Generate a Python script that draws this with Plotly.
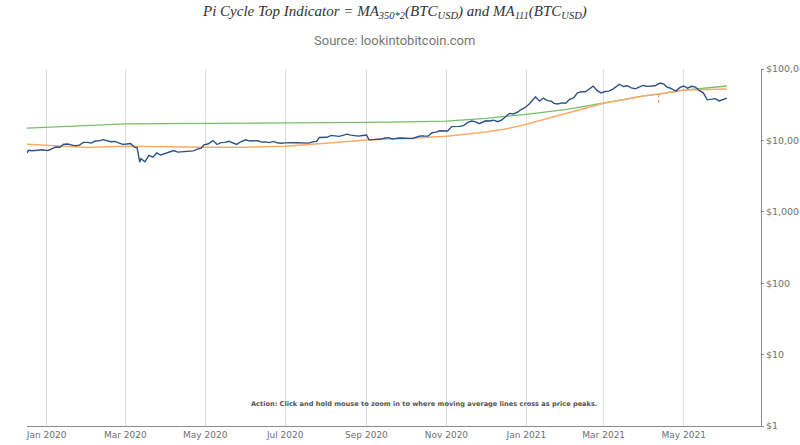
import plotly.graph_objects as go

price_dates = ["2019-12-17","2019-12-18","2019-12-21","2019-12-25","2019-12-29","2020-01-01","2020-01-03","2020-01-06","2020-01-08","2020-01-11","2020-01-14","2020-01-17","2020-01-20","2020-01-23","2020-01-26","2020-01-29","2020-02-01","2020-02-04","2020-02-07","2020-02-10","2020-02-13","2020-02-16","2020-02-19","2020-02-22","2020-02-25","2020-02-28","2020-03-02","2020-03-05","2020-03-08","2020-03-10","2020-03-12","2020-03-13","2020-03-16","2020-03-19","2020-03-22","2020-03-25","2020-03-28","2020-04-01","2020-04-04","2020-04-07","2020-04-10","2020-04-13","2020-04-16","2020-04-19","2020-04-22","2020-04-25","2020-04-28","2020-04-30","2020-05-03","2020-05-07","2020-05-10","2020-05-13","2020-05-16","2020-05-19","2020-05-22","2020-05-25","2020-05-28","2020-06-01","2020-06-04","2020-06-07","2020-06-10","2020-06-13","2020-06-16","2020-06-19","2020-06-22","2020-06-25","2020-06-28","2020-07-01","2020-07-04","2020-07-07","2020-07-10","2020-07-13","2020-07-16","2020-07-19","2020-07-22","2020-07-25","2020-07-27","2020-07-30","2020-08-02","2020-08-05","2020-08-08","2020-08-11","2020-08-14","2020-08-17","2020-08-20","2020-08-23","2020-08-26","2020-08-29","2020-09-01","2020-09-03","2020-09-06","2020-09-09","2020-09-12","2020-09-15","2020-09-18","2020-09-21","2020-09-24","2020-09-27","2020-09-30","2020-10-03","2020-10-06","2020-10-09","2020-10-12","2020-10-15","2020-10-18","2020-10-21","2020-10-24","2020-10-27","2020-10-30","2020-11-02","2020-11-05","2020-11-08","2020-11-11","2020-11-14","2020-11-17","2020-11-20","2020-11-23","2020-11-26","2020-11-29","2020-12-01","2020-12-04","2020-12-07","2020-12-10","2020-12-13","2020-12-16","2020-12-19","2020-12-22","2020-12-25","2020-12-28","2020-12-31","2021-01-03","2021-01-06","2021-01-08","2021-01-11","2021-01-14","2021-01-17","2021-01-20","2021-01-22","2021-01-25","2021-01-28","2021-01-31","2021-02-03","2021-02-06","2021-02-09","2021-02-12","2021-02-15","2021-02-18","2021-02-21","2021-02-24","2021-02-27","2021-03-02","2021-03-05","2021-03-08","2021-03-11","2021-03-13","2021-03-16","2021-03-19","2021-03-22","2021-03-25","2021-03-28","2021-03-31","2021-04-03","2021-04-06","2021-04-09","2021-04-13","2021-04-16","2021-04-18","2021-04-21","2021-04-25","2021-04-28","2021-05-01","2021-05-04","2021-05-07","2021-05-10","2021-05-13","2021-05-16","2021-05-19","2021-05-22","2021-05-25","2021-05-28","2021-05-31","2021-06-03"]
price_values = [6640,7290,7150,7250,7390,7200,7340,7770,8070,8030,8840,8900,8630,8400,8590,9390,9390,9160,9800,9850,10240,9900,9600,9670,9320,8790,8900,9060,8040,7900,4970,5560,5020,6180,5830,6680,6240,6640,6780,7200,6860,6900,7100,7120,7130,7550,7790,8660,8900,9950,8760,9310,9380,9730,9170,8790,9570,10200,9790,9750,9890,9470,9530,9300,9690,9250,9120,9230,9130,9250,9280,9240,9130,9170,9530,9700,11000,11110,11060,11750,11680,11400,11770,12250,11870,11650,11480,11710,11920,10170,10280,10240,10440,10790,10930,10420,10740,10780,10780,10550,10600,11060,11550,11500,11490,12820,13030,13650,13550,13560,15590,15480,15700,16070,17730,18680,18360,17150,18180,18800,18700,19190,18320,19270,21310,23870,23490,24700,27080,28950,32100,36800,40800,35500,39200,36000,35500,33000,32300,33500,33100,37600,39300,46400,47900,47900,52100,57500,49700,46300,48400,48900,52300,57800,61200,56800,58300,54500,52800,55900,58800,57100,58100,58200,63500,61300,56200,53800,49100,54800,57800,53800,57300,55800,49700,46400,37000,37500,38400,35700,37300,39200]

ma350x2_dates = ["2019-12-17","2020-01-01","2020-02-01","2020-03-01","2020-04-01","2020-05-01","2020-06-01","2020-07-01","2020-08-01","2020-09-01","2020-10-01","2020-11-01","2020-12-01","2021-01-01","2021-02-01","2021-03-01","2021-04-01","2021-04-12","2021-05-01","2021-06-03"]
ma350x2_values = [14900,15300,16200,17000,17200,17300,17300,17300,17500,17900,18200,18600,20300,23200,27200,33700,41900,44500,50500,57800]

ma111_dates = ["2019-12-17","2020-01-01","2020-02-01","2020-03-01","2020-04-01","2020-05-01","2020-06-01","2020-07-01","2020-08-01","2020-09-01","2020-10-01","2020-11-01","2020-12-01","2020-12-15","2021-01-01","2021-02-01","2021-03-01","2021-04-01","2021-04-12","2021-05-01","2021-06-03"]
ma111_values = [8800,8450,7950,8250,8100,8000,8050,8250,9100,10100,10600,11400,13100,14300,16800,23900,33100,42300,44500,50800,52500]

cross_dates = ["2021-04-12", "2021-04-12"]
cross_values = [44500, 32500]

y_tickvals = [1, 10, 100, 1000, 10000, 100000]
y_ticktext = ["$1", "$10", "$100", "$1,000", "$10,000", "$100,000"]

fig = go.Figure()
fig.add_trace(go.Scatter(x=ma350x2_dates, y=ma350x2_values, mode="lines",
                         line=dict(color="#79bd6a", width=1.3), showlegend=False))
fig.add_trace(go.Scatter(x=ma111_dates, y=ma111_values, mode="lines",
                         line=dict(color="#fdab67", width=1.5), showlegend=False))
fig.add_trace(go.Scatter(x=price_dates, y=price_values, mode="lines",
                         line=dict(color="#2c5286", width=1.4), showlegend=False))
fig.add_trace(go.Scatter(x=cross_dates, y=cross_values, mode="lines",
                         line=dict(color="#e07070", width=1, dash="dot"), showlegend=False))

fig.update_layout(
    width=800, height=445,
    margin=dict(l=27, r=39, t=69, b=19),
    paper_bgcolor="white", plot_bgcolor="white",
    xaxis=dict(
        type="date", range=["2019-12-17", "2021-06-29"],
        tick0="2020-01-01", dtick="M2", tickformat="%b %Y",
        showgrid=True, gridcolor="#dcdcdc", gridwidth=1,
        showline=True, linecolor="#8a8a8a", linewidth=1,
        ticks="", zeroline=False, automargin=False,
        tickfont=dict(family="DejaVu Sans", size=9, color="#707070"),
    ),
    yaxis=dict(
        type="log", range=[0, 5], side="right",
        tickvals=y_tickvals, ticktext=y_ticktext,
        showgrid=False, showline=True, linecolor="#8a8a8a", linewidth=1,
        ticks="outside", ticklen=2, tickcolor="#8a8a8a",
        zeroline=False, automargin=False,
        tickfont=dict(family="DejaVu Sans", size=9.5, color="#707070"),
    ),
    annotations=[
        dict(text="<i>Pi Cycle Top Indicator = MA<sub>350*2</sub>(BTC<sub>USD</sub>) and MA<sub>111</sub>(BTC<sub>USD</sub>)</i>",
             xref="paper", yref="paper", x=0.5, y=1.16, showarrow=False,
             xanchor="center", yanchor="middle",
             font=dict(family="Liberation Serif", size=15, color="#333333")),
        dict(text="Source: lookintobitcoin.com",
             xref="paper", yref="paper", x=0.5, y=1.081, showarrow=False,
             xanchor="center", yanchor="middle",
             font=dict(family="Roboto", size=13, color="#777777")),
        dict(text="<b>Action: Click and hold mouse to zoom in to where moving average lines cross as price peaks.</b>",
             xref="paper", yref="paper", x=0.541, y=0.062, showarrow=False,
             xanchor="center", yanchor="middle",
             font=dict(family="DejaVu Sans", size=6.6, color="#555555")),
    ],
)

# remove the page's default 8px body margin so the 800x445 figure fills the window
fig.write_html("out.html", config={"displayModeBar": False},
               post_script="document.body.style.margin='0px';")
